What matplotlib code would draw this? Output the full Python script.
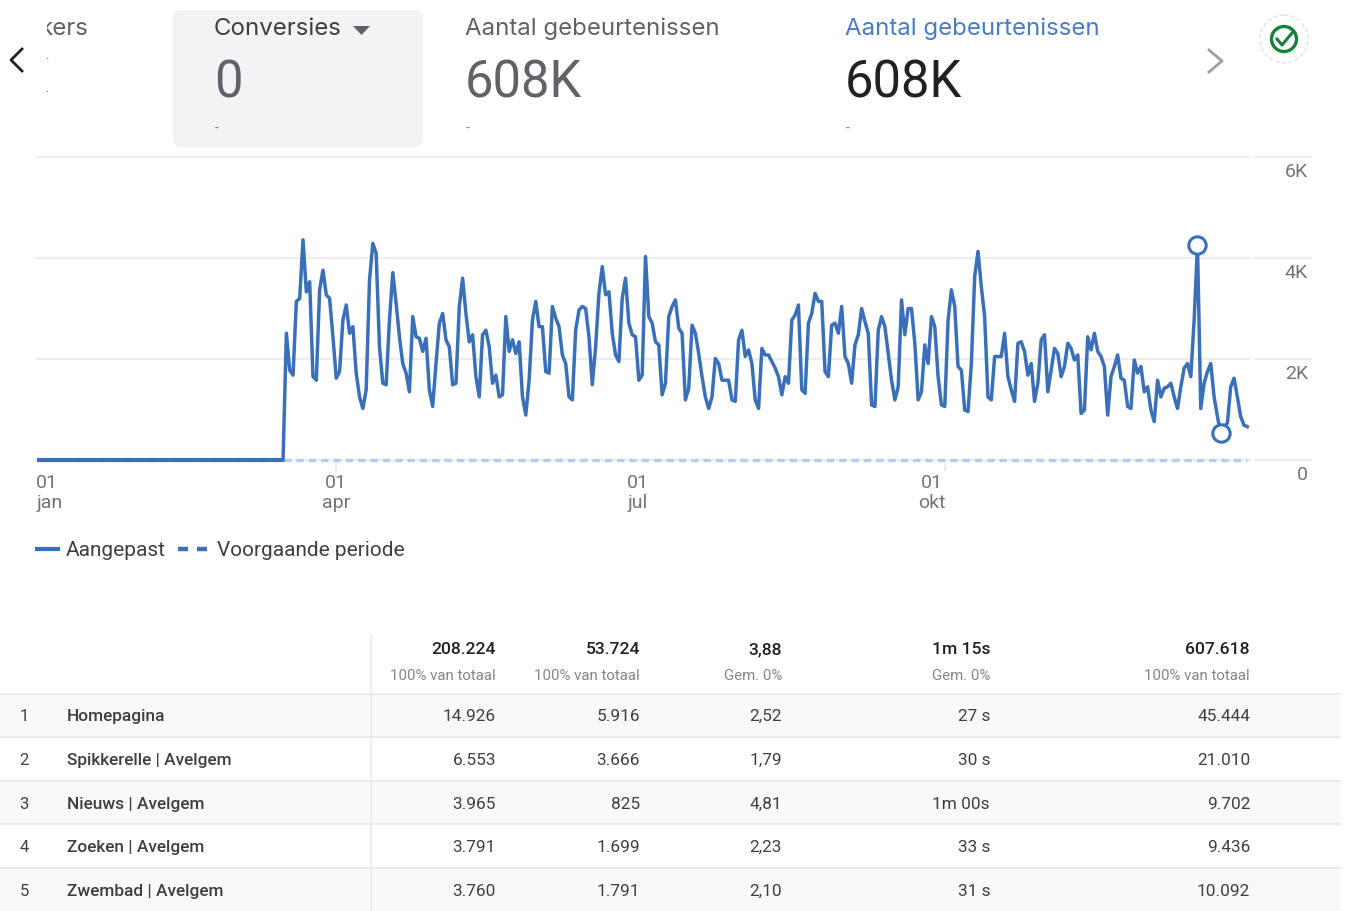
import matplotlib
matplotlib.use('Agg')
import matplotlib.pyplot as plt
from matplotlib.patches import Rectangle, FancyBboxPatch, Circle, Polygon
import numpy as np

plt.rcParams['font.family'] = ['Roboto', 'DejaVu Sans']

W, H = 1347, 911
BLUE = '#3a70b8'
DARK = '#3c4043'
GREY = '#5f6368'
GRID = '#ebedef'

# daily values, first 75 days are empty
zero_days = 75
sessions = [
    2510, 1780, 1680, 3140, 3200, 4360, 3330, 3530, 1650, 1580, 3370, 3760, 3270, 3200, 2440, 1620, 1750, 2770,
    3070, 2510, 2640, 1720, 1250, 1020, 1390, 3560, 4290, 4090, 2240, 1520, 1490, 2770, 3710, 3100, 2440, 1910,
    1720, 1350, 2840, 2440, 2410, 2150, 2410, 1390, 1060, 1910, 2710, 2900, 2380, 2240, 1490, 1520, 3040, 3600,
    2900, 2340, 2480, 1650, 1250, 2480, 2570, 2240, 1520, 1680, 1250, 1290, 2840, 2150, 2380, 2110, 2340, 1250,
    890, 1580, 2770, 3140, 2640, 2640, 1750, 1720, 3040, 2810, 2640, 2080, 1910, 1250, 1190, 2570, 2970, 3040,
    3000, 2440, 1490, 2240, 3300, 3830, 3270, 3330, 2510,
    2080, 1950, 3200, 3600, 2710, 2480, 2440, 1580, 1680, 4030, 2840, 2710, 2340, 2280, 1290, 1520, 2840, 3040,
    3170, 2610, 2510, 1190, 1420, 2670, 2510, 2110, 1650, 1250, 1020, 1250, 2010, 1910, 1580, 1580, 1580, 1190,
    1160, 2380, 2570, 2050, 2180, 1910, 1190, 1020, 2210, 2080, 2080, 1950, 1820, 1650, 1290, 1650, 1520, 2770,
    2870, 3070, 1390, 1320, 2710, 2900, 3300, 3140, 3140, 1750, 1650, 2670, 2710, 2510, 3040, 2050, 1910, 1520,
    2280, 2480, 3000, 2740, 2510, 1090, 1060, 2570, 2840, 2640, 2110, 1580, 1190, 1450, 3170, 2480, 3000, 3000,
    2310, 1190, 1350, 2280, 1910, 2840,
    2640, 1650, 1090, 1060, 2770, 3370, 3040, 1850, 1780, 990, 960, 1910, 3630, 4130, 3430, 2840, 1250, 1190,
    2050, 2050, 2050, 2510, 1650, 1390, 1160, 2310, 2340, 2150, 1680, 1910, 1160, 1520, 2380, 2480, 1350, 1780,
    2210, 2110, 1650, 1850, 2310, 2210, 1980, 2080, 920, 990, 2440, 2180, 2510, 2150, 2050, 1850, 890, 1650,
    1850, 2080, 1620, 1580, 1060, 1020, 1980, 1720, 1850, 1350, 1450, 990, 760, 1580, 1250, 1420, 1450, 1520,
    1250, 1020, 1450, 1820, 1910, 1650, 2770, 4260, 1020, 1520, 1750, 1910, 1250, 860, 530, 660, 730, 1450,
    1620, 1250, 860, 690, 660,
]
grid_values = [0, 2000, 4000, 6000]
y_labels = ['0', '2K', '4K', '6K']
tick_days = [90, 273]

metric_names = ['Conversies', 'Aantal gebeurtenissen', 'Aantal gebeurtenissen']
metric_values = ['0', '608K', '608K']

totals = ['208.224', '53.724', '3,88', '1m 15s', '607.618']
total_subs = ['100% van totaal', '100% van totaal', 'Gem. 0%', 'Gem. 0%', '100% van totaal']
pages = ['Homepagina', 'Spikkerelle | Avelgem', 'Nieuws | Avelgem', 'Zoeken | Avelgem', 'Zwembad | Avelgem']
col_1 = ['14.926', '6.553', '3.965', '3.791', '3.760']
col_2 = ['5.916', '3.666', '825', '1.699', '1.791']
col_3 = ['2,52', '1,79', '4,81', '2,23', '2,10']
col_4 = ['27 s', '30 s', '1m 00s', '33 s', '31 s']
col_5 = ['45.444', '21.010', '9.702', '9.436', '10.092']

fig = plt.figure(figsize=(W / 100, H / 100), dpi=100)

# overlay in pixel coordinates for the page furniture
bg = fig.add_axes([0, 0, 1, 1])
bg.set_xlim(0, W)
bg.set_ylim(H, 0)
bg.axis('off')

# metric cards
bg.add_patch(FancyBboxPatch((173, 10), 250, 137, boxstyle='round,pad=0,rounding_size=8',
                            mutation_aspect=1, fc='#f1f3f4', ec='none'))
clip = Rectangle((47, 10), 60, 40, transform=bg.transData)
t = bg.text(88, 29, 'kers', ha='right', va='center', fontsize=17.3, color=GREY, family='Inter')
t.set_clip_on(True)
t.set_clip_path(clip)
for y in [62, 95]:
    bg.text(47, y, '.', ha='center', va='bottom', fontsize=9, color=GREY)

metric_x = [214, 465, 845]
name_colors = [DARK, GREY, '#4a7cc4']
value_colors = [GREY, GREY, '#202124']
for i in range(3):
    bg.text(metric_x[i], 29, metric_names[i], ha='left', va='center', fontsize=17.3, color=name_colors[i],
            family='Inter')
    bg.text(metric_x[i], 84, metric_values[i], ha='left', va='center', fontsize=36.5, color=value_colors[i])
    bg.text(metric_x[i] + 1, 129, '-', ha='left', va='center', fontsize=10, color='#80868b')

bg.add_patch(Polygon([(353, 26), (370, 26), (361.5, 35)], fc=GREY, ec='none'))
bg.plot([22, 11, 22], [49, 60, 71], color='#202124', lw=2)
bg.plot([1209, 1222, 1209], [50, 61, 72], color='#9aa0a6', lw=2)

# status icon
bg.add_patch(Circle((1284, 39), 24, fc='white', ec='#dadce0', lw=0.8, ls=(0, (4, 2))))
bg.add_patch(Circle((1284, 39), 12.5, fc='white', ec='#188038', lw=2.4))
bg.plot([1277, 1282, 1292], [39, 45, 33], color='#188038', lw=2.2)

# line chart
ax = fig.add_axes([37 / W, 1 - 460 / H, 1213 / W, 303 / H])
ax.patch.set_alpha(0)
values = np.array([0] * zero_days + sessions, dtype=float)
days = np.arange(len(values))
ax.set_xlim(0, 364.8)
ax.set_ylim(0, 6000)
for s in ax.spines.values():
    s.set_visible(False)
ax.set_xticks([])
ax.set_yticks([])

trans = ax.get_yaxis_transform()
for v, lab in zip(grid_values, y_labels):
    ax.plot([0, 1], [v, v], transform=trans, color=GRID, lw=1.6, zorder=1, clip_on=False)
    ax.plot([1.004, 1.05], [v, v], transform=trans, color=GRID, lw=1.6, zorder=1, clip_on=False)
    ax.annotate(lab, (1, v), xycoords=trans, xytext=(58, -15), textcoords='offset pixels',
                ha='right', va='center', fontsize=14, color='#70757a')

ax.plot(days, np.zeros(len(days)), color='#b3cdee', lw=2.4, ls=(0, (2.2, 1.5)), zorder=2, clip_on=False)
ax.plot(days[:zero_days], values[:zero_days], color=BLUE, lw=3, zorder=3, clip_on=False, solid_capstyle='butt')
ax.plot(days[zero_days - 1:], values[zero_days - 1:], color=BLUE, lw=2.5, zorder=3, clip_on=False,
        solid_joinstyle='round')

# high and low markers in the last weeks
tail_start = len(values) - 30
hi = tail_start + int(np.argmax(values[tail_start:]))
lo = tail_start + int(np.argmin(values[tail_start:]))
ax.plot(days[[hi, lo]], values[[hi, lo]], ls='none', marker='o', ms=12.5, mfc='white', mec=BLUE, mew=2.2,
        zorder=4, clip_on=False)

# x labels
for d in tick_days:
    ax.plot([d, d], [-60, -200], color=GRID, lw=1.5, clip_on=False, zorder=1)
label_x = [47, 336, 638, 932]
label_top = ['01', '01', '01', '01']
label_bot = ['jan', 'apr', 'jul', 'okt']
for x, a, b in zip(label_x, label_top, label_bot):
    bg.text(x, 483, a, ha='center', va='center', fontsize=14, color='#70757a')
    bg.text(x + 3 if b == 'jan' else x, 503, b, ha='center', va='center', fontsize=14, color='#70757a')

# legend
bg.plot([37, 58], [549, 549], color=BLUE, lw=3)
bg.text(66, 550.5, 'Aangepast', ha='left', va='center', fontsize=15, color=DARK)
bg.plot([178, 188], [549, 549], color=BLUE, lw=3.2, solid_capstyle='butt')
bg.plot([197, 207], [549, 549], color=BLUE, lw=3.2, solid_capstyle='butt')
bg.text(217, 550.5, 'Voorgaande periode', ha='left', va='center', fontsize=15, color=DARK)

# table
row_tops = [694, 737, 781, 824, 868]
row_bottoms = [737, 781, 824, 868, 911]
for i in range(5):
    if i % 2 == 0:
        bg.add_patch(Rectangle((0, row_tops[i]), 1340, row_bottoms[i] - row_tops[i], fc='#f8f9fa', ec='none', zorder=0))
    bg.plot([0, 1340], [row_tops[i], row_tops[i]], color='#e8eaed', lw=1.4, zorder=1)
bg.plot([371, 371], [635, 911], color='#e8eaed', lw=1.2, zorder=1)

col_x = [496, 640, 782, 990, 1250]
for x, tot, sub in zip(col_x, totals, total_subs):
    bg.text(x, 654, tot, ha='right', va='baseline', fontsize=12.6, color='#202124', fontweight='medium')
    bg.text(x, 679.5, sub, ha='right', va='baseline', fontsize=10.8, color='#80868b')

columns = [col_1, col_2, col_3, col_4, col_5]
row_base = [721, 765, 809, 852, 896]
for i in range(5):
    bg.text(24, row_base[i], str(i + 1), ha='center', va='baseline', fontsize=12, color=DARK)
    bg.text(67, row_base[i], pages[i], ha='left', va='baseline', fontsize=12.4, color=DARK, fontweight='medium')
    for x, col in zip(col_x, columns):
        bg.text(x, row_base[i], col[i], ha='right', va='baseline', fontsize=12.4, color=DARK)

fig.savefig('out.png', dpi=100)
